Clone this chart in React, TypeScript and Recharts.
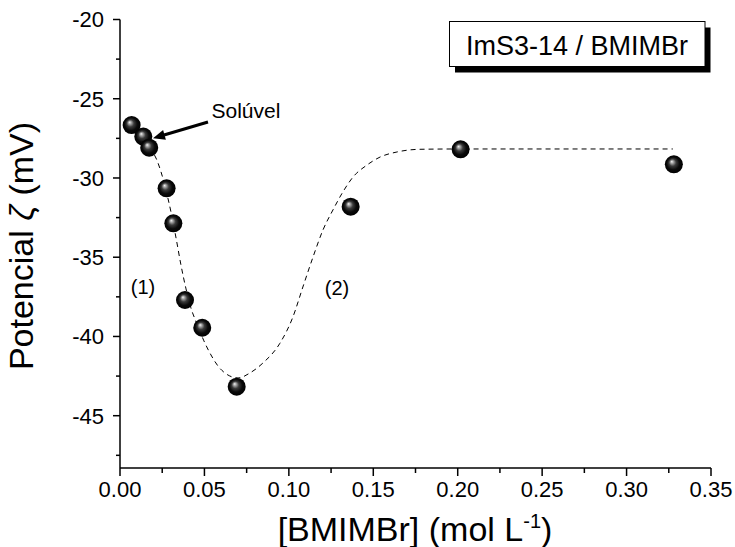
import React from "react";
import { ComposedChart, XAxis, YAxis, Line, Scatter } from "recharts";

// Measured data points
const concentrations = [0.0069, 0.0138, 0.0173, 0.0276, 0.0316, 0.0385, 0.0487, 0.0691, 0.1366, 0.2017, 0.328];
const zeta = [-26.66, -27.39, -28.09, -30.65, -32.86, -37.7, -39.45, -43.17, -31.81, -28.19, -29.14];

// Dashed guide curve
const fitX = [0.0172, 0.0213, 0.0243, 0.0272, 0.0302, 0.0332, 0.0361, 0.0391, 0.042, 0.0456, 0.0497, 0.0539, 0.058, 0.0639, 0.0699, 0.077, 0.0847, 0.0947, 0.1024, 0.1083, 0.1143, 0.1202, 0.1261, 0.132, 0.138, 0.1463, 0.154, 0.164, 0.1776, 0.2, 0.3274];
const fitY = [-28.11, -28.74, -29.62, -30.76, -32.15, -33.79, -35.49, -37.0, -38.2, -39.21, -40.28, -41.17, -41.86, -42.43, -42.62, -42.3, -41.67, -40.43, -38.77, -36.88, -34.99, -33.28, -32.02, -30.88, -29.94, -29.18, -28.68, -28.36, -28.19, -28.17, -28.17];

// Ticks
const xTicks = [0, 0.025, 0.05, 0.075, 0.1, 0.125, 0.15, 0.175, 0.2, 0.225, 0.25, 0.275, 0.3, 0.325, 0.35];
const xMajor = [0, 0.05, 0.1, 0.15, 0.2, 0.25, 0.3, 0.35];
const yTicks = [-47.5, -45, -42.5, -40, -37.5, -35, -32.5, -30, -27.5, -25, -22.5, -20];
const yMajor = [-45, -40, -35, -30, -25, -20];

const points = concentrations.map((x, i) => ({ x, y: zeta[i] }));
const fit = fitX.map((x, i) => ({ x, y: fitY[i] }));

const FONT = "'Liberation Sans', Arial, Helvetica, sans-serif";

const isIn = (arr: number[], v: number) => arr.some((a) => Math.abs(a - v) < 1e-9);

const XTick = (props: any) => {
  const { x, y, payload } = props;
  const major = isIn(xMajor, payload.value);
  return (
    <g>
      <line x1={x} x2={x} y1={y} y2={y + (major ? 8 : 5)} stroke="#000" strokeWidth={1.5} />
      {major && (
        <text x={x} y={y + 29} textAnchor="middle" fontSize={22} fontFamily={FONT} fill="#000">
          {payload.value.toFixed(2)}
        </text>
      )}
    </g>
  );
};

const YTick = (props: any) => {
  const { x, y, payload } = props;
  const major = isIn(yMajor, payload.value);
  return (
    <g>
      <line x1={x} x2={x - (major ? 7 : 4)} y1={y} y2={y} stroke="#000" strokeWidth={1.5} />
      {major && (
        <text x={x - 16} y={y} dy="0.36em" textAnchor="end" fontSize={22} fontFamily={FONT} fill="#000">
          {String(payload.value)}
        </text>
      )}
    </g>
  );
};

const Sphere = (props: any) => {
  const { cx, cy } = props;
  if (cx == null || cy == null) return null;
  return <circle cx={cx} cy={cy} r={9} fill="url(#sphereGrad)" />;
};

export default function App() {
  return (
    <div style={{ position: "absolute", left: 0, top: 0, width: 735, height: 547, background: "#fff" }}>
      <svg width={0} height={0} style={{ position: "absolute" }}>
        <defs>
          <radialGradient id="sphereGrad" cx="50%" cy="50%" r="50%" fx="38%" fy="34%">
            <stop offset="0%" stopColor="#f4f4f4" />
            <stop offset="14%" stopColor="#b0b0b0" />
            <stop offset="40%" stopColor="#3a3a3a" />
            <stop offset="70%" stopColor="#0a0a0a" />
            <stop offset="100%" stopColor="#000" />
          </radialGradient>
        </defs>
      </svg>
      <ComposedChart width={735} height={547} margin={{ top: 19.5, right: 24, bottom: 0, left: 0 }}>
        <XAxis
          dataKey="x"
          type="number"
          domain={[0, 0.35]}
          allowDataOverflow
          ticks={xTicks}
          interval={0}
          tickSize={0}
          tickMargin={0}
          tickLine={false}
          tick={<XTick />}
          height={79}
          axisLine={{ stroke: "#000", strokeWidth: 1.5 }}
        />
        <XAxis
          xAxisId="top"
          orientation="top"
          type="number"
          domain={[0, 0.35]}
          height={0}
          tick={false}
          tickLine={false}
          axisLine={{ stroke: "#000", strokeWidth: 1.5 }}
        />
        <YAxis
          type="number"
          domain={[-48.3, -20]}
          allowDataOverflow
          ticks={yTicks}
          interval={0}
          tickSize={0}
          tickMargin={0}
          tickLine={false}
          tick={<YTick />}
          width={120}
          axisLine={{ stroke: "#000", strokeWidth: 1.5 }}
        />
        <YAxis
          yAxisId="right"
          orientation="right"
          type="number"
          domain={[-48.3, -20]}
          width={0}
          tick={false}
          tickLine={false}
          axisLine={{ stroke: "#000", strokeWidth: 1.5 }}
        />
        <Line
          data={fit}
          dataKey="y"
          type="monotone"
          stroke="#000"
          strokeWidth={1}
          strokeDasharray="5 4"
          dot={false}
          activeDot={false}
          isAnimationActive={false}
        />
        <Scatter data={points} dataKey="y" shape={<Sphere />} isAnimationActive={false} />
      </ComposedChart>
      <svg
        width={735}
        height={547}
        style={{ position: "absolute", left: 0, top: 0, pointerEvents: "none" }}
        fontFamily={FONT}
      >
        {/* legend box with shadow */}
        <rect x={455} y={27.5} width={255.5} height={45} fill="#000" />
        <rect x={449.5} y={21.5} width={255.5} height={45} fill="#fff" stroke="#000" strokeWidth={1} />
        <text x={577} y={54.5} textAnchor="middle" fontSize={27} fill="#000">
          ImS3-14 / BMIMBr
        </text>
        {/* annotation */}
        <text x={211.5} y={118} fontSize={21} fill="#000">
          Solúvel
        </text>
        <line x1={208} y1={122} x2={164} y2={135} stroke="#000" strokeWidth={3} />
        <polygon points="153,138.3 165.9,139.7 163.1,130.1" fill="#000" />
        <text x={143} y={294} textAnchor="middle" fontSize={20} fill="#000">
          (1)
        </text>
        <text x={337} y={295} textAnchor="middle" fontSize={20} fill="#000">
          (2)
        </text>
        {/* axis titles */}
        <text x={33} y={246} transform="rotate(-90 33 246)" textAnchor="middle" fontSize={34} fill="#000">
          Potencial <tspan fontStyle="italic">ζ</tspan> (mV)
        </text>
        <text x={415} y={541} textAnchor="middle" fontSize={34} fill="#000">
          [BMIMBr] (mol L<tspan dy={-13} fontSize={20}>-1</tspan>
          <tspan dy={13} fontSize={34}>)</tspan>
        </text>
      </svg>
    </div>
  );
}
